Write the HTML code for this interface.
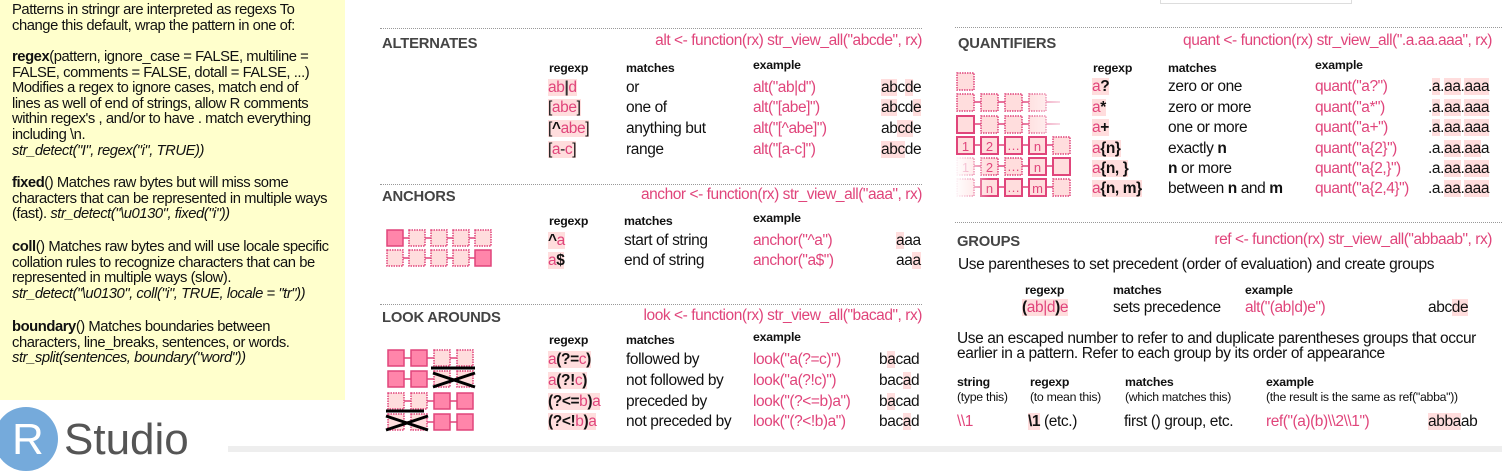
<!DOCTYPE html>
<html><head><meta charset="utf-8"><style>
body{margin:0;width:1502px;height:452px;overflow:hidden;background:#fff;font-family:"Liberation Sans",sans-serif;position:relative;color:#111}
.a{position:absolute;white-space:nowrap;line-height:1}
.t{font-size:15.5px;letter-spacing:-0.4px}
.h{font-size:14.8px;font-weight:bold;color:#444;letter-spacing:-0.2px}
.s{font-size:12.3px;font-weight:bold;letter-spacing:-0.2px}
.g{font-size:12.3px;letter-spacing:-0.3px}
.p{color:#e0457b}
.hl{background:#fdd}
.f{font-size:15.5px;color:#e0457b;letter-spacing:-0.45px}
.dl{position:absolute;height:0;border-top:1.5px dotted #999}
#left{position:absolute;left:0;top:0;width:345px;height:400px;background:#ffffcc}
#left div{position:absolute;left:12px;font-size:14.8px;line-height:15.6px;letter-spacing:-0.45px;width:322px}
</style></head><body>
<div id="left">
<div style="top:3px">Patterns in stringr are interpreted as regexs To change this default, wrap the pattern in one of:</div>
<div style="top:50px"><b>regex</b>(pattern, ignore_case = FALSE, multiline = FALSE, comments = FALSE, dotall = FALSE, ...) Modifies a regex to ignore cases, match end of<br>lines as well of end of strings, allow R comments within regex's , and/or to have . match everything including \n.<br><i>str_detect("I", regex("i", TRUE))</i></div>
<div style="top:176px"><b>fixed</b>() Matches raw bytes but will miss some characters that can be represented in multiple ways (fast). <i>str_detect("\u0130", fixed("i"))</i></div>
<div style="top:240px"><b>coll</b>() Matches raw bytes and will use locale specific collation rules to recognize characters that can be represented in multiple ways (slow). <i>str_detect("\u0130", coll("i", TRUE, locale = "tr"))</i></div>
<div style="top:320px"><b>boundary</b>() Matches boundaries between characters, line_breaks, sentences, or words. <i>str_split(sentences, boundary("word"))</i></div>
</div>
<div style="position:absolute;left:-6px;top:407px;width:64px;height:64px;border-radius:50%;background:#75aadb"></div>
<div class="a" style="left:12px;top:418px;font-size:44px;color:#fff">R</div>
<div class="a" style="left:64px;top:418px;font-size:44px;color:#555">Studio</div>
<div style="position:absolute;left:228px;top:446px;width:1274px;height:6px;background:#eee"></div>
<div style="position:absolute;left:1160px;top:0;width:190px;height:3px;border:1px solid #ddd;border-top:none"></div>

<!-- ALTERNATES -->
<div class="dl" style="left:380px;top:28px;width:542px"></div>
<div class="a h" style="left:382px;top:37px">ALTERNATES</div>
<div class="a f" style="right:580px;top:33px">alt &lt;- function(rx) str_view_all("abcde", rx)</div>
<div class="a s" style="left:549px;top:62px">regexp</div><div class="a s" style="left:626px;top:62px">matches</div><div class="a s" style="left:753px;top:59px">example</div>
<div class="a t" style="left:548px;top:80px"><span class="hl p">ab<b style="color:#333">|</b>d</span></div>
<div class="a t" style="left:626px;top:80px">or</div><div class="a f" style="left:753px;top:80px">alt("ab|d")</div><div class="a t" style="left:881px;top:80px"><span class="hl">ab</span>c<span class="hl">d</span>e</div>
<div class="a t" style="left:548px;top:100px"><span class="hl">[<span class="p">abe</span>]</span></div>
<div class="a t" style="left:626px;top:100px">one of</div><div class="a f" style="left:753px;top:100px">alt("[abe]")</div><div class="a t" style="left:881px;top:100px"><span class="hl">ab</span>cd<span class="hl">e</span></div>
<div class="a t" style="left:548px;top:121px"><span class="hl">[<b>^</b><span class="p">abe</span>]</span></div>
<div class="a t" style="left:626px;top:121px">anything but</div><div class="a f" style="left:753px;top:121px">alt("[^abe]")</div><div class="a t" style="left:881px;top:121px">ab<span class="hl">cd</span>e</div>
<div class="a t" style="left:548px;top:142px"><span class="hl">[<span class="p">a</span>-<span class="p">c</span>]</span></div>
<div class="a t" style="left:626px;top:142px">range</div><div class="a f" style="left:753px;top:142px">alt("[a-c]")</div><div class="a t" style="left:881px;top:142px"><span class="hl">abc</span>de</div>

<!-- ANCHORS -->
<div class="dl" style="left:380px;top:184px;width:542px"></div>
<div class="a h" style="left:382px;top:190px">ANCHORS</div>
<div class="a f" style="right:580px;top:187px">anchor &lt;- function(rx) str_view_all("aaa", rx)</div>
<div class="a s" style="left:549px;top:215px">regexp</div><div class="a s" style="left:624px;top:215px">matches</div><div class="a s" style="left:753px;top:212px">example</div>
<div class="a t" style="left:548px;top:233px"><span class="hl"><b>^</b><span class="p">a</span></span></div>
<div class="a t" style="left:624px;top:233px">start of string</div><div class="a f" style="left:753px;top:233px">anchor("^a")</div><div class="a t" style="left:896px;top:233px"><span class="hl">a</span>aa</div>
<div class="a t" style="left:548px;top:253px"><span class="hl"><span class="p">a</span><b>$</b></span></div>
<div class="a t" style="left:624px;top:253px">end of string</div><div class="a f" style="left:753px;top:253px">anchor("a$")</div><div class="a t" style="left:896px;top:253px">aa<span class="hl">a</span></div>

<!-- LOOK AROUNDS -->
<div class="dl" style="left:380px;top:304px;width:542px"></div>
<div class="a h" style="left:382px;top:311px">LOOK AROUNDS</div>
<div class="a f" style="right:580px;top:308px">look &lt;- function(rx) str_view_all("bacad", rx)</div>
<div class="a s" style="left:549px;top:334px">regexp</div><div class="a s" style="left:626px;top:334px">matches</div><div class="a s" style="left:753px;top:331px">example</div>
<div class="a t" style="left:548px;top:352px"><span class="hl"><span class="p">a</span><b>(?=</b><span class="p">c</span><b>)</b></span></div>
<div class="a t" style="left:626px;top:352px">followed by</div><div class="a f" style="left:753px;top:352px">look("a(?=c)")</div><div class="a t" style="left:879px;top:352px">b<span class="hl">a</span>cad</div>
<div class="a t" style="left:548px;top:373px"><span class="hl"><span class="p">a</span><b>(?!</b><span class="p">c</span><b>)</b></span></div>
<div class="a t" style="left:626px;top:373px">not followed by</div><div class="a f" style="left:753px;top:373px">look("a(?!c)")</div><div class="a t" style="left:879px;top:373px">bac<span class="hl">a</span>d</div>
<div class="a t" style="left:548px;top:394px"><span class="hl"><b>(?&lt;=</b><span class="p">b</span><b>)</b><span class="p">a</span></span></div>
<div class="a t" style="left:626px;top:394px">preceded by</div><div class="a f" style="left:753px;top:394px">look("(?&lt;=b)a")</div><div class="a t" style="left:879px;top:394px">b<span class="hl">a</span>cad</div>
<div class="a t" style="left:548px;top:414px"><span class="hl"><b>(?&lt;!</b><span class="p">b</span><b>)</b><span class="p">a</span></span></div>
<div class="a t" style="left:626px;top:414px">not preceded by</div><div class="a f" style="left:753px;top:414px">look("(?&lt;!b)a")</div><div class="a t" style="left:879px;top:414px">bac<span class="hl">a</span>d</div>

<!-- QUANTIFIERS -->
<div class="dl" style="left:955px;top:27px;width:547px"></div>
<div class="a h" style="left:958px;top:37px">QUANTIFIERS</div>
<div class="a f" style="right:10px;top:33px">quant &lt;- function(rx) str_view_all(".a.aa.aaa", rx)</div>
<div class="a s" style="left:1093px;top:62px">regexp</div><div class="a s" style="left:1168px;top:62px">matches</div><div class="a s" style="left:1315px;top:59px">example</div>
<div class="a t" style="left:1092px;top:79px"><span class="hl"><span class="p">a</span><b>?</b></span></div>
<div class="a t" style="left:1168px;top:79px">zero or one</div><div class="a f" style="left:1315px;top:79px">quant("a?")</div><div class="a t" style="left:1428px;top:79px">.<span class="hl">a</span>.<span class="hl">a</span><span class="hl">a</span>.<span class="hl">a</span><span class="hl">a</span><span class="hl">a</span></div>
<div class="a t" style="left:1092px;top:100px"><span class="hl"><span class="p">a</span><b>*</b></span></div>
<div class="a t" style="left:1168px;top:100px">zero or more</div><div class="a f" style="left:1315px;top:100px">quant("a*")</div><div class="a t" style="left:1428px;top:100px">.<span class="hl">a</span>.<span class="hl">aa</span>.<span class="hl">aaa</span></div>
<div class="a t" style="left:1092px;top:120px"><span class="hl"><span class="p">a</span><b>+</b></span></div>
<div class="a t" style="left:1168px;top:120px">one or more</div><div class="a f" style="left:1315px;top:120px">quant("a+")</div><div class="a t" style="left:1428px;top:120px">.<span class="hl">a</span>.<span class="hl">aa</span>.<span class="hl">aaa</span></div>
<div class="a t" style="left:1092px;top:141px"><span class="hl"><span class="p">a</span><b>{n}</b></span></div>
<div class="a t" style="left:1168px;top:141px">exactly <b>n</b></div><div class="a f" style="left:1315px;top:141px">quant("a{2}")</div><div class="a t" style="left:1428px;top:141px">.a.<span class="hl">aa</span>.<span class="hl">aa</span>a</div>
<div class="a t" style="left:1092px;top:161px"><span class="hl"><span class="p">a</span><b>{n, }</b></span></div>
<div class="a t" style="left:1168px;top:161px"><b>n</b> or more</div><div class="a f" style="left:1315px;top:161px">quant("a{2,}")</div><div class="a t" style="left:1428px;top:161px">.a.<span class="hl">aa</span>.<span class="hl">aaa</span></div>
<div class="a t" style="left:1092px;top:181px"><span class="hl"><span class="p">a</span><b>{n, m}</b></span></div>
<div class="a t" style="left:1168px;top:181px">between <b>n</b> and <b>m</b></div><div class="a f" style="left:1315px;top:181px">quant("a{2,4}")</div><div class="a t" style="left:1428px;top:181px">.a.<span class="hl">aa</span>.<span class="hl">aaa</span></div>

<!-- GROUPS -->
<div class="dl" style="left:955px;top:222px;width:547px"></div>
<div class="a h" style="left:957px;top:235px">GROUPS</div>
<div class="a f" style="right:10px;top:232px">ref &lt;- function(rx) str_view_all("abbaab", rx)</div>
<div class="a t" style="left:958px;top:257px">Use parentheses to set precedent (order of evaluation) and create groups</div>
<div class="a s" style="left:1025px;top:284px">regexp</div><div class="a s" style="left:1113px;top:284px">matches</div><div class="a s" style="left:1245px;top:284px">example</div>
<div class="a t" style="left:1022px;top:300px"><span class="hl"><b>(</b><span class="p">ab|d</span><b>)</b><span class="p">e</span></span></div>
<div class="a t" style="left:1113px;top:300px">sets precedence</div><div class="a f" style="left:1245px;top:300px">alt("(ab|d)e")</div><div class="a t" style="left:1428px;top:300px">abc<span class="hl">de</span></div>
<div class="a t" style="left:957px;top:331px;line-height:15px">Use an escaped number to refer to and duplicate parentheses groups that occur<br>earlier in a pattern. Refer to each group by its order of appearance</div>
<div class="a s" style="left:957px;top:376px">string</div><div class="a s" style="left:1030px;top:376px">regexp</div><div class="a s" style="left:1125px;top:376px">matches</div><div class="a s" style="left:1266px;top:376px">example</div>
<div class="a g" style="left:957px;top:391px">(type this)</div><div class="a g" style="left:1030px;top:391px">(to mean this)</div><div class="a g" style="left:1125px;top:391px">(which matches this)</div><div class="a g" style="left:1266px;top:391px">(the result is the same as ref("abba"))</div>
<div class="a f" style="left:957px;top:414px">\\1</div>
<div class="a t" style="left:1028px;top:414px"><span class="hl"><b>\1</b></span> (etc.)</div>
<div class="a t" style="left:1124px;top:414px">first () group, etc.</div><div class="a f" style="left:1266px;top:414px">ref("(a)(b)\\2\\1")</div><div class="a t" style="left:1428px;top:414px"><span class="hl">abba</span>ab</div>

<svg width="1502" height="452" style="position:absolute;left:0;top:0">
<defs>
<linearGradient id="fd" x1="0" x2="1"><stop offset="0" stop-color="#fff" stop-opacity="1"/><stop offset="1" stop-color="#fff" stop-opacity="0"/></linearGradient>
<linearGradient id="fr" x1="0" x2="1"><stop offset="0" stop-color="#fff" stop-opacity="0"/><stop offset="1" stop-color="#fff" stop-opacity="1"/></linearGradient>
</defs>
<g stroke="#e0457b" stroke-width="1.5">
<line x1="395" y1="238" x2="485" y2="238"/><line x1="395" y1="258" x2="485" y2="258"/>
<rect x="387" y="230" width="16" height="16" fill="#ff85aa"/>
<g fill="#fdd" stroke-dasharray="1.5 1"><rect x="409" y="230" width="16" height="16"/><rect x="431" y="230" width="16" height="16"/><rect x="453" y="230" width="16" height="16"/><rect x="475" y="230" width="16" height="16"/>
<rect x="387" y="250" width="16" height="16"/><rect x="409" y="250" width="16" height="16"/><rect x="431" y="250" width="16" height="16"/><rect x="453" y="250" width="16" height="16"/></g>
<rect x="475" y="250" width="16" height="16" fill="#ff85aa"/>
<line x1="396" y1="358" x2="465" y2="358"/><line x1="396" y1="379" x2="465" y2="379"/><line x1="396" y1="401" x2="465" y2="401"/><line x1="396" y1="422" x2="465" y2="422"/>
<g fill="#ff85aa"><rect x="388" y="350" width="16" height="16"/><rect x="411" y="350" width="16" height="16"/><rect x="388" y="371" width="16" height="16"/><rect x="411" y="371" width="16" height="16"/>
<rect x="434" y="393" width="16" height="16"/><rect x="457" y="393" width="16" height="16"/><rect x="434" y="414" width="16" height="16"/><rect x="457" y="414" width="16" height="16"/></g>
<g fill="#fdd" stroke-dasharray="1.5 1"><rect x="434" y="350" width="16" height="16"/><rect x="457" y="350" width="16" height="16"/><rect x="434" y="371" width="16" height="16"/><rect x="457" y="371" width="16" height="16"/>
<rect x="388" y="393" width="16" height="16"/><rect x="411" y="393" width="16" height="16"/><rect x="388" y="414" width="16" height="16"/><rect x="411" y="414" width="16" height="16"/></g>
</g>
<g stroke="#000" stroke-width="3"><line x1="431" y1="368" x2="475" y2="368"/><line x1="433" y1="373" x2="475" y2="387"/><line x1="433" y1="387" x2="475" y2="373"/>
<line x1="386" y1="411" x2="424" y2="411"/><line x1="386" y1="416" x2="428" y2="430"/><line x1="386" y1="430" x2="428" y2="416"/></g>
<g stroke="#e0457b" stroke-width="1.5">
<line x1="965" y1="102" x2="1060" y2="102"/><line x1="965" y1="124" x2="1060" y2="124"/><line x1="965" y1="145" x2="1060" y2="145"/><line x1="965" y1="166" x2="1060" y2="166"/><line x1="965" y1="187" x2="1060" y2="187"/>
<g fill="#fdd" stroke-dasharray="1.5 1">
<rect x="957" y="73" width="17" height="17"/>
<rect x="957" y="94" width="17" height="17"/><rect x="981" y="94" width="17" height="17"/><rect x="1005" y="94" width="17" height="17"/><rect x="1029" y="94" width="17" height="17"/>
<rect x="981" y="116" width="17" height="17"/><rect x="1005" y="116" width="17" height="17"/><rect x="1029" y="116" width="17" height="17"/>
<rect x="1053" y="137" width="17" height="17"/>
<rect x="957" y="158" width="17" height="17"/><rect x="981" y="158" width="17" height="17"/><rect x="1005" y="158" width="17" height="17"/>
<rect x="957" y="179" width="17" height="17"/><rect x="1053" y="179" width="17" height="17"/></g>
<g fill="#fdd" stroke-width="2">
<rect x="957" y="116" width="17" height="17"/>
<rect x="957" y="137" width="17" height="17"/><rect x="981" y="137" width="17" height="17"/><rect x="1005" y="137" width="17" height="17"/><rect x="1029" y="137" width="17" height="17"/>
<rect x="1029" y="158" width="17" height="17"/><rect x="1053" y="158" width="17" height="17"/>
<rect x="981" y="179" width="17" height="17"/><rect x="1005" y="179" width="17" height="17"/><rect x="1029" y="179" width="17" height="17"/></g>
</g>
<g fill="#e0457b" font-family="Liberation Sans" font-size="13" text-anchor="middle">
<text x="965.5" y="151">1</text><text x="989.5" y="151">2</text><text x="1013.5" y="150">…</text><text x="1037.5" y="151">n</text>
<text x="965.5" y="172">1</text><text x="989.5" y="172">2</text><text x="1013.5" y="171">…</text><text x="1037.5" y="172">n</text>
<text x="989.5" y="193">n</text><text x="1013.5" y="192">…</text><text x="1037.5" y="193">m</text></g>
<rect x="1022" y="92" width="52" height="44" fill="url(#fr)"/>
<rect x="954" y="156" width="36" height="42" fill="url(#fd)"/>
</svg>
</body></html>
